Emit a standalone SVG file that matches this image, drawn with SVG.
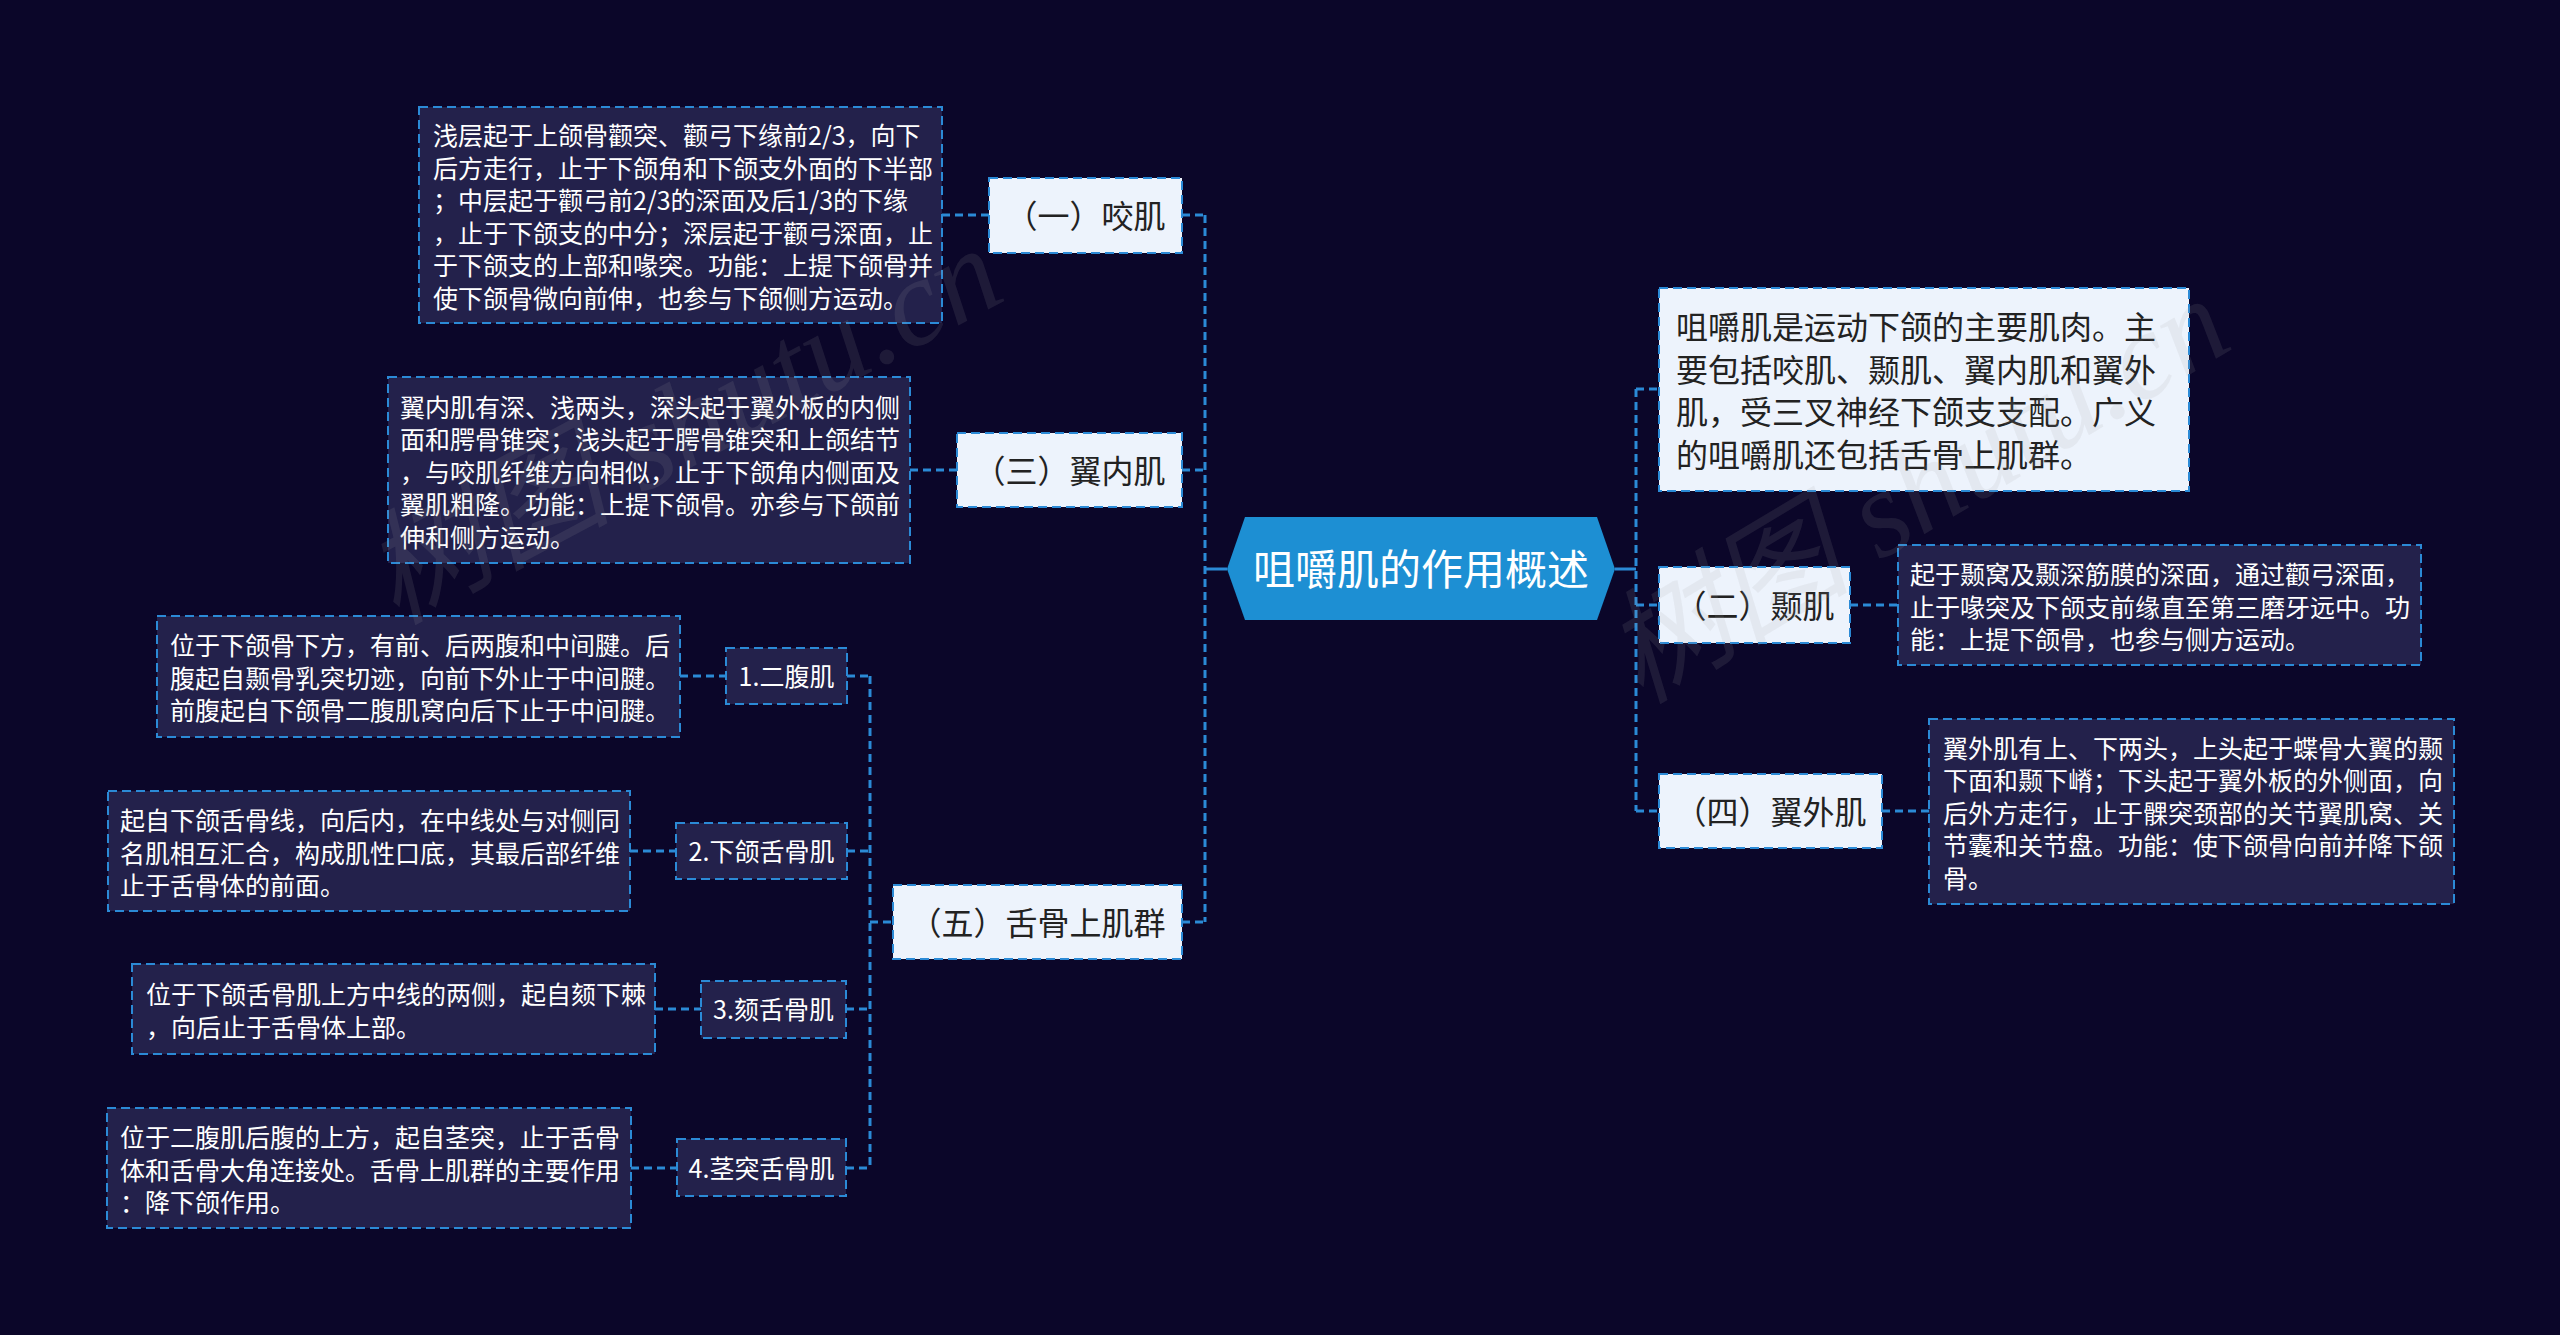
<svg xmlns="http://www.w3.org/2000/svg" width="2560" height="1335" viewBox="0 0 2560 1335">
<style>
.bg{fill:#0b0629}
.conn{fill:none;stroke:#2b8ad6;stroke-width:3;stroke-dasharray:8 5}
.solid{fill:none;stroke:#2b8ad6;stroke-width:3}
.light{fill:#edf3fc;stroke:#2b8ad6;stroke-width:2;stroke-dasharray:9 5}
.dark{fill:#23214b;stroke:#2b8ad6;stroke-width:2;stroke-dasharray:9 5}
text{font-family:"Noto Sans CJK SC","Noto Sans",sans-serif}
.t1{font-size:32px;fill:#222222;text-anchor:middle}
.t2{font-size:25px;fill:#ffffff;text-anchor:middle}
.td{font-size:25px;fill:#ffffff}
.ts{font-size:32px;fill:#222222}
.tc{font-size:42px;fill:#ffffff;text-anchor:middle}
.wm{font-size:124px;fill:#a0a0a0;fill-opacity:0.13;font-family:"Liberation Serif","Noto Sans CJK SC",serif;font-style:italic}
</style>
<rect class="bg" x="0" y="0" width="2560" height="1335"/>

<g id="connectors">
<path class="solid" d="M1227 569 H1205"/>
<path class="solid" d="M1615 569 H1636"/>
<path class="conn" d="M1205 215 V922"/>
<path class="conn" d="M1182 215 H1205"/>
<path class="conn" d="M1182 470 H1205"/>
<path class="conn" d="M1182 922 H1205"/>
<path class="conn" d="M1636 389 V811"/>
<path class="conn" d="M1636 389 H1659"/>
<path class="conn" d="M1636 605 H1659"/>
<path class="conn" d="M1636 811 H1659"/>
<path class="conn" d="M870 676 V1168"/>
<path class="conn" d="M870 922 H893"/>
<path class="conn" d="M847 676 H870"/>
<path class="conn" d="M847 851 H870"/>
<path class="conn" d="M846 1009 H870"/>
<path class="conn" d="M846 1168 H870"/>
<path class="conn" d="M942 215 H989"/>
<path class="conn" d="M910 470 H957"/>
<path class="conn" d="M680 676 H726"/>
<path class="conn" d="M630 851 H676"/>
<path class="conn" d="M655 1009 H701"/>
<path class="conn" d="M631 1168 H677"/>
<path class="conn" d="M1850 605 H1898"/>
<path class="conn" d="M1882 811 H1929"/>
</g>

<g id="root">
<polygon points="1227,569 1245,517 1597,517 1615,569 1597,620 1245,620" fill="#1d8fd3"/>
<text class="tc" x="1421" y="585">咀嚼肌的作用概述</text>
</g>

<g id="n-yaoji">
<rect class="light" x="989" y="178" width="193" height="75"/>
<text class="t1" x="1085.5" y="228">（一）咬肌</text>
</g>
<g id="d-yaoji">
<rect class="dark" x="419" y="107" width="523" height="216"/>
<text class="td" x="433" y="145">浅层起于上颌骨颧突、颧弓下缘前2/3，向下</text>
<text class="td" x="433" y="177.5">后方走行，止于下颌角和下颌支外面的下半部</text>
<text class="td" x="433" y="210">；中层起于颧弓前2/3的深面及后1/3的下缘</text>
<text class="td" x="433" y="242.5">，止于下颌支的中分；深层起于颧弓深面，止</text>
<text class="td" x="433" y="275">于下颌支的上部和喙突。功能：上提下颌骨并</text>
<text class="td" x="433" y="307.5">使下颌骨微向前伸，也参与下颌侧方运动。</text>
</g>

<g id="n-yineiji">
<rect class="light" x="957" y="433" width="225" height="74"/>
<text class="t1" x="1069.5" y="483">（三）翼内肌</text>
</g>
<g id="d-yineiji">
<rect class="dark" x="388" y="377" width="522" height="186"/>
<text class="td" x="400" y="416.5">翼内肌有深、浅两头，深头起于翼外板的内侧</text>
<text class="td" x="400" y="449">面和腭骨锥突；浅头起于腭骨锥突和上颌结节</text>
<text class="td" x="400" y="481.5">，与咬肌纤维方向相似，止于下颌角内侧面及</text>
<text class="td" x="400" y="514">翼肌粗隆。功能：上提下颌骨。亦参与下颌前</text>
<text class="td" x="400" y="546.5">伸和侧方运动。</text>
</g>

<g id="n-shegu">
<rect class="light" x="893" y="885" width="289" height="74"/>
<text class="t1" x="1037.5" y="935">（五）舌骨上肌群</text>
</g>

<g id="n-erfu">
<rect class="dark" x="726" y="648" width="121" height="56"/>
<text class="t2" x="786.5" y="686">1.二腹肌</text>
</g>
<g id="d-erfu">
<rect class="dark" x="157" y="616" width="523" height="121"/>
<text class="td" x="170" y="655">位于下颌骨下方，有前、后两腹和中间腱。后</text>
<text class="td" x="170" y="687.5">腹起自颞骨乳突切迹，向前下外止于中间腱。</text>
<text class="td" x="170" y="720">前腹起自下颌骨二腹肌窝向后下止于中间腱。</text>
</g>

<g id="n-xiahe">
<rect class="dark" x="676" y="823" width="171" height="56"/>
<text class="t2" x="761.5" y="861">2.下颌舌骨肌</text>
</g>
<g id="d-xiahe">
<rect class="dark" x="108" y="791" width="522" height="120"/>
<text class="td" x="120" y="830">起自下颌舌骨线，向后内，在中线处与对侧同</text>
<text class="td" x="120" y="862.5">名肌相互汇合，构成肌性口底，其最后部纤维</text>
<text class="td" x="120" y="895">止于舌骨体的前面。</text>
</g>

<g id="n-kes">
<rect class="dark" x="701" y="981" width="145" height="57"/>
<text class="t2" x="773.5" y="1019">3.颏舌骨肌</text>
</g>
<g id="d-kes">
<rect class="dark" x="132" y="964" width="523" height="90"/>
<text class="td" x="146" y="1004">位于下颌舌骨肌上方中线的两侧，起自颏下棘</text>
<text class="td" x="146" y="1036.5">，向后止于舌骨体上部。</text>
</g>

<g id="n-jingtu">
<rect class="dark" x="677" y="1139" width="169" height="57"/>
<text class="t2" x="761.5" y="1178">4.茎突舌骨肌</text>
</g>
<g id="d-jingtu">
<rect class="dark" x="107" y="1108" width="524" height="120"/>
<text class="td" x="120" y="1147">位于二腹肌后腹的上方，起自茎突，止于舌骨</text>
<text class="td" x="120" y="1179.5">体和舌骨大角连接处。舌骨上肌群的主要作用</text>
<text class="td" x="120" y="1212">：降下颌作用。</text>
</g>

<g id="n-summary">
<rect class="light" x="1659" y="288" width="530" height="203"/>
<text class="ts" x="1676" y="339">咀嚼肌是运动下颌的主要肌肉。主</text>
<text class="ts" x="1676" y="381.5">要包括咬肌、颞肌、翼内肌和翼外</text>
<text class="ts" x="1676" y="424">肌，受三叉神经下颌支支配。广义</text>
<text class="ts" x="1676" y="466.5">的咀嚼肌还包括舌骨上肌群。</text>
</g>

<g id="n-nieji">
<rect class="light" x="1659" y="567" width="191" height="76"/>
<text class="t1" x="1754.5" y="618">（二）颞肌</text>
</g>
<g id="d-nieji">
<rect class="dark" x="1898" y="545" width="523" height="120"/>
<text class="td" x="1910" y="584">起于颞窝及颞深筋膜的深面，通过颧弓深面，</text>
<text class="td" x="1910" y="616.5">止于喙突及下颌支前缘直至第三磨牙远中。功</text>
<text class="td" x="1910" y="649">能：上提下颌骨，也参与侧方运动。</text>
</g>

<g id="n-yiwaiji">
<rect class="light" x="1659" y="774" width="223" height="74"/>
<text class="t1" x="1770.5" y="824">（四）翼外肌</text>
</g>
<g id="d-yiwaiji">
<rect class="dark" x="1929" y="719" width="525" height="185"/>
<text class="td" x="1943" y="757.5">翼外肌有上、下两头，上头起于蝶骨大翼的颞</text>
<text class="td" x="1943" y="790">下面和颞下嵴；下头起于翼外板的外侧面，向</text>
<text class="td" x="1943" y="822.5">后外方走行，止于髁突颈部的关节翼肌窝、关</text>
<text class="td" x="1943" y="855">节囊和关节盘。功能：使下颌骨向前并降下颌</text>
<text class="td" x="1943" y="887.5">骨。</text>
</g>

<g id="watermark">
<text class="wm" transform="translate(395,625) rotate(-28)">树图 shutu.cn</text>
<text class="wm" transform="translate(1640,705) rotate(-31)">树图 shutu.cn</text>
</g>
</svg>
